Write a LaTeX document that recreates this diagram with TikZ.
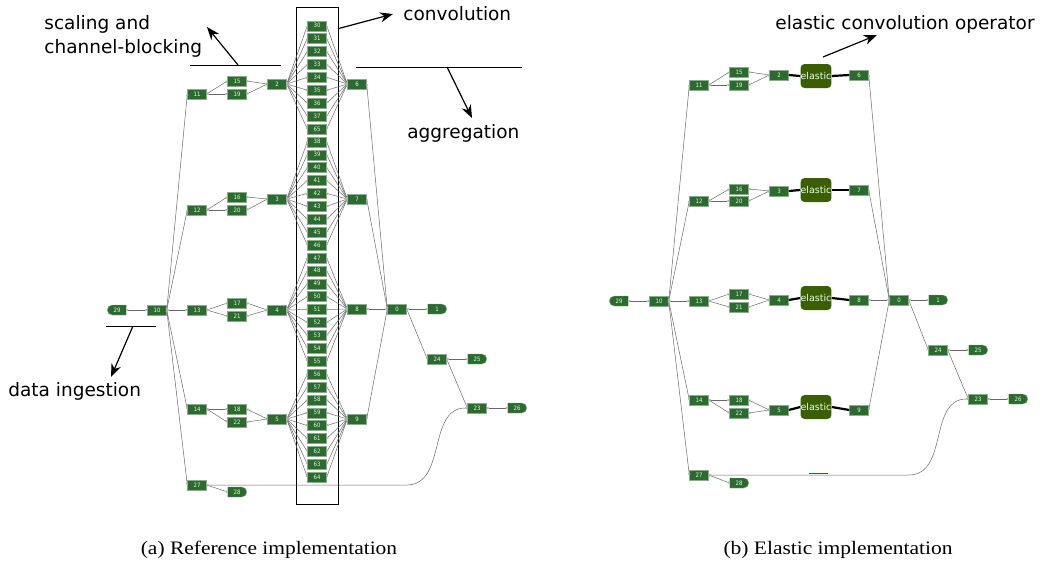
\documentclass[tikz,border=0pt]{standalone}
\usepackage{fontspec}
\setmainfont{Liberation Serif}
\setsansfont{DejaVu Sans}
\newfontfamily\opfont{DejaVu Sans Condensed}
\usetikzlibrary{shapes.misc, arrows.meta, positioning}

\definecolor{opgreen}{RGB}{45,106,48}
\definecolor{elgreen}{RGB}{58,94,0}
\definecolor{linkgray}{RGB}{105,105,105}
\definecolor{portgray}{RGB}{175,175,175}

\begin{document}
\begin{tikzpicture}[x=1pt, y=-1pt, thick]
    % Styles for operators, links and notes
    \tikzstyle{op} = [rectangle, fill=opgreen, draw=opgreen!55!white, line width=0.4pt, minimum width=19pt, minimum height=10pt, inner sep=0pt, text=white!85!green, font=\opfont\fontsize{6}{6}\selectfont]
    \tikzstyle{source} = [op, rounded rectangle, rounded rectangle east arc=none]
    \tikzstyle{sink} = [op, rounded rectangle, rounded rectangle west arc=none]
    \tikzstyle{elop} = [rectangle, rounded corners=4pt, fill=elgreen, minimum width=29pt, minimum height=24pt, inner sep=0pt, text=green!8!white, font=\sffamily\fontsize{9.5}{9.5}\selectfont]
    \tikzstyle{link} = [draw=linkgray, line width=0.5pt, {Circle[length=2.2pt, portgray]}-{Circle[length=2.2pt, portgray]}]
    \tikzstyle{fat link} = [draw=black, line width=2.2pt]
    \tikzstyle{note} = [font=\sffamily\fontsize{18.5}{24}\selectfont, align=left, inner sep=0pt]
    \tikzstyle{mline} = [line width=1pt]
    \tikzstyle{arrow} = [line width=1.2pt, -{Stealth[length=13pt, width=10pt]}]
    \tikzstyle{subcap} = [font=\fontsize{19}{19}\selectfont, inner sep=0pt]

    \useasboundingbox (0,0) rectangle (1051,563);

    % (a) Reference implementation
    \node[source] (a29) at (117,310) {29};
    \foreach \n/\x/\y in {10/157/310, 11/197/94, 12/197/210, 13/197/310, 14/197/409, 27/197/485,
        15/237/81, 19/237/94, 16/237/197, 20/237/210, 17/237/303, 21/237/316, 18/237/409, 22/237/422,
        2/277/84, 3/277/199, 4/277/310, 5/277/419, 6/357/84, 7/357/199, 8/357/309, 9/357/419,
        0/397/309, 24/437/359, 23/477/408}
        \node[op] (a\n) at (\x,\y) {\n};
    \foreach \n/\x/\y in {28/237/492, 1/437/309, 25/477/359, 26/517/408}
        \node[sink] (a\n) at (\x,\y) {\n};

    % convolution column
    \node[draw, line width=0.8pt, minimum width=42pt, minimum height=497pt, inner sep=0pt] (convbox) at (317,255.5) {};
    \foreach \lab [count=\i from 0] in {30,31,32,33,34,35,36,37,65,38,39,40,41,42,43,44,45,46,
        47,48,49,50,51,52,53,54,55,56,57,58,59,60,61,62,63,64} {
        \node[op] (c\lab) at (317,25.7+12.9*\i) {\lab};
        \pgfmathtruncatemacro\src{2+int(\i/9)}
        \pgfmathtruncatemacro\dst{6+int(\i/9)}
        \draw[link] (a\src.east) -- (c\lab.west);
        \draw[link] (c\lab.east) -- (a\dst.west);
    }

    % links
    \draw[link] (a29.east) -- (a10.west);
    \foreach \t in {11,12,13,14,27}
        \draw[link] (a10.east) -- (a\t.west);
    \foreach \s/\t in {11/15, 11/19, 12/16, 12/20, 13/17, 13/21, 14/18, 14/22, 27/28,
        15/2, 19/2, 16/3, 20/3, 17/4, 21/4, 18/5, 22/5,
        6/0, 7/0, 8/0, 9/0, 0/1, 0/24, 24/25, 24/23, 23/26}
        \draw[link] (a\s.east) -- (a\t.west);
    \draw[link] (a27.east) -- ++(200,0) .. controls +(40,0) and +(-40,0) .. (a23.west);

    % notes
    \node[note, anchor=west] (scaltxt) at (44,36.5) {scaling and\\channel-blocking};
    \coordinate (scall) at (190,65);
    \coordinate (scalr) at (281,65);
    \coordinate (scalfoot) at (238,65);
    \coordinate (scalhead) at (207,27);
    \draw[mline] (scall) -- (scalr);
    \draw[arrow] (scalfoot) -- (scalhead);

    \node[note, anchor=base west] (convtxt) at (403,20) {convolution};
    \coordinate (convfoot) at ([yshift=-22pt]convbox.north east);
    \coordinate (convhead) at (393,14);
    \draw[arrow] (convfoot) -- (convhead);

    \node[note, anchor=base west] (aggtxt) at (407,138) {aggregation};
    \coordinate (aggl) at (356,67);
    \coordinate (aggr) at (522,67);
    \coordinate (aggfoot) at (447,67);
    \coordinate (agghead) at (472,118);
    \draw[mline] (aggl) -- (aggr);
    \draw[arrow] (aggfoot) -- (agghead);

    \node[note, anchor=base west] (ingtxt) at (8,396) {data ingestion};
    \coordinate (ingl) at (106,326);
    \coordinate (ingr) at (156,326);
    \coordinate (ingfoot) at (133,326);
    \coordinate (inghead) at (111,377);
    \draw[mline] (ingl) -- (ingr);
    \draw[arrow] (ingfoot) -- (inghead);

    % (b) Elastic implementation
    \node[source] (b29) at (619,301) {29};
    \foreach \n/\x/\y in {10/659/301, 11/699/85, 12/699/201, 13/699/301, 14/699/400, 27/699/475,
        15/739/72, 19/739/85, 16/739/189, 20/739/201, 17/739/294, 21/739/307, 18/739/400, 22/739/413,
        2/779/75, 3/779/191, 4/779/300, 5/779/410, 6/859/75, 7/859/190, 8/859/300, 9/859/410,
        0/899/300, 24/938/350, 23/978/399}
        \node[op] (b\n) at (\x,\y) {\n};
    \foreach \n/\x/\y in {28/739/483, 1/938/300, 25/978/350, 26/1018/399}
        \node[sink] (b\n) at (\x,\y) {\n};
    \foreach \k/\y in {1/76, 2/190, 3/298, 4/407}
        \node[elop] (el\k) at (816,\y) {elastic};

    \draw[link] (b29.east) -- (b10.west);
    \foreach \t in {11,12,13,14,27}
        \draw[link] (b10.east) -- (b\t.west);
    \foreach \s/\t in {11/15, 11/19, 12/16, 12/20, 13/17, 13/21, 14/18, 14/22, 27/28,
        15/2, 19/2, 16/3, 20/3, 17/4, 21/4, 18/5, 22/5,
        6/0, 7/0, 8/0, 9/0, 0/1, 0/24, 24/25, 24/23, 23/26}
        \draw[link] (b\s.east) -- (b\t.west);
    \foreach \k/\s/\t in {1/2/6, 2/3/7, 3/4/8, 4/5/9} {
        \draw[fat link] (b\s.east) -- (el\k.west);
        \draw[fat link] (el\k.east) -- (b\t.west);
    }
    \draw[link] (b27.east) -- ++(200,0) .. controls +(40,0) and +(-40,0) .. (b23.west);
    \draw[opgreen, line width=1pt] (809,473) -- (828,473);

    \node[note, anchor=base west] (eltxt) at (775,29) {elastic convolution operator};
    \coordinate (elfoot) at (823,57);
    \coordinate (elhead) at (877,35);
    \draw[arrow] (elfoot) -- (elhead);

    % sub-captions
    \node[subcap, anchor=base] (capa) at (269,554) {\scalebox{1.13}[1]{(a) Reference implementation}};
    \node[subcap, anchor=base] (capb) at (838,554) {\scalebox{1.13}[1]{(b) Elastic implementation}};
\end{tikzpicture}
\end{document}
